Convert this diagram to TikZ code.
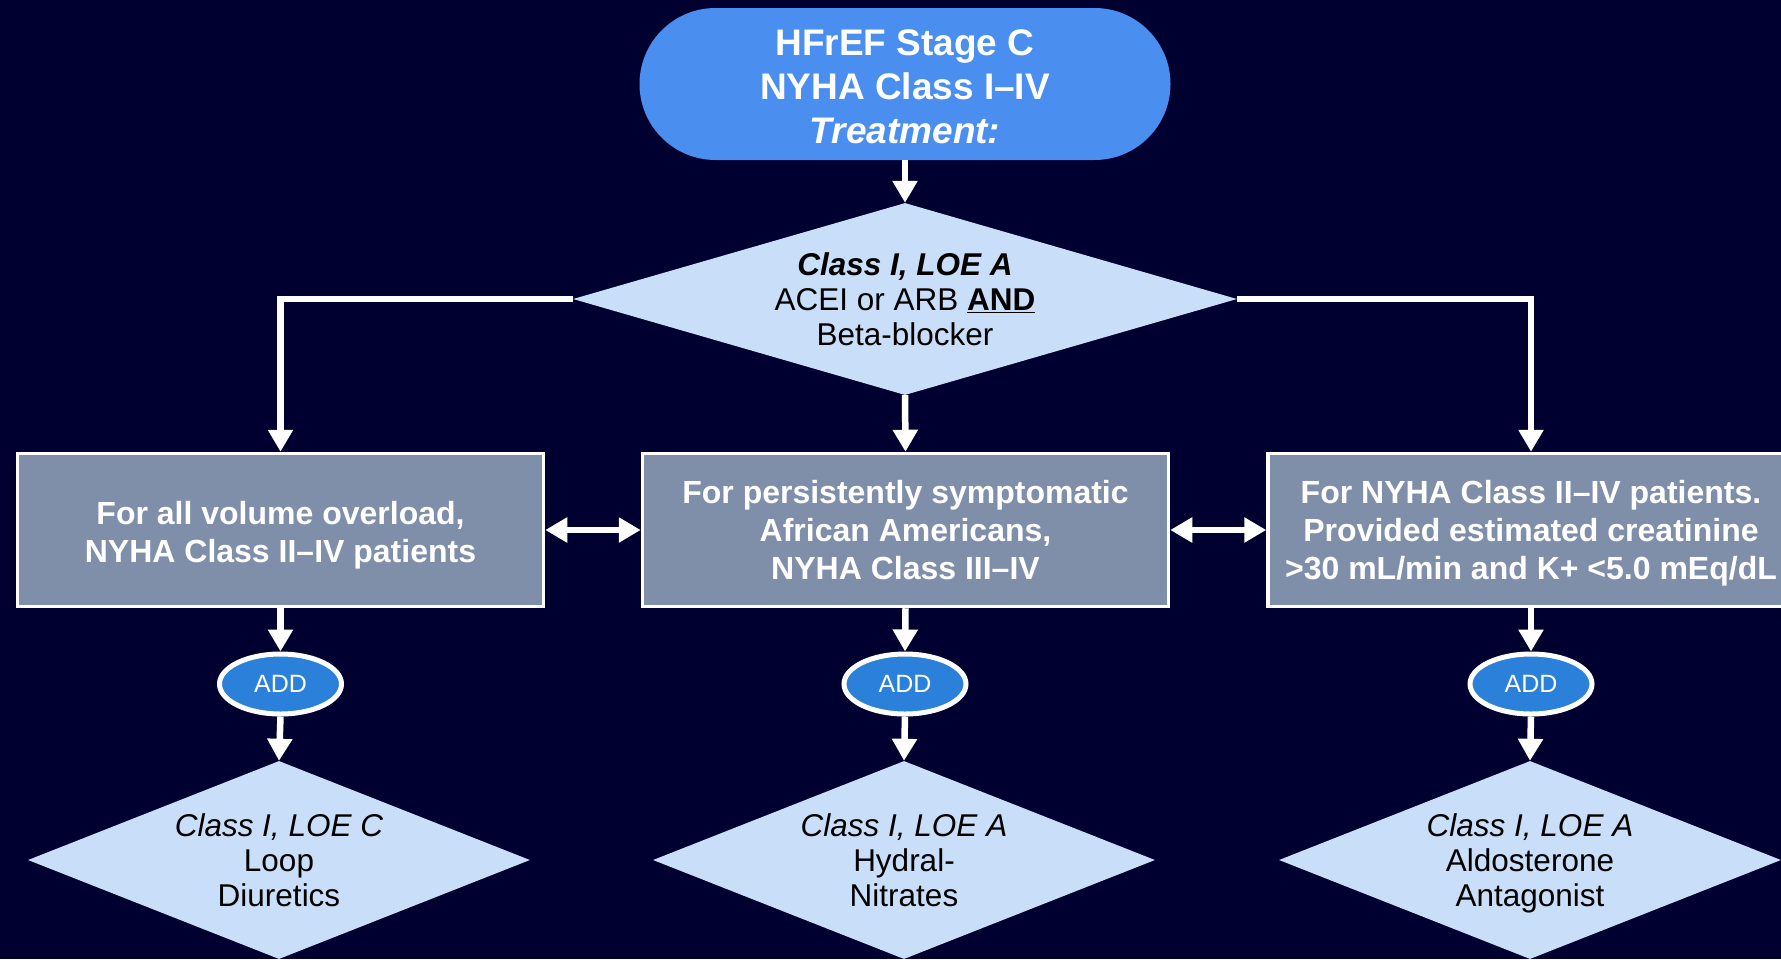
\documentclass[tikz,border=0pt]{standalone}
\usepackage{fontspec}
\setmainfont{Liberation Sans}
\usetikzlibrary{shapes.geometric,arrows.meta}
\definecolor{bg}{HTML}{000030}
\definecolor{pillblue}{HTML}{4A8EF0}
\definecolor{boxgray}{HTML}{7F8FAA}
\definecolor{ellblue}{HTML}{2B80D9}
\definecolor{diablue}{HTML}{C9DEF8}
\newcommand\lastline[1]{\smash{#1}}
\begin{document}
\begin{tikzpicture}[x=1pt,y=-1pt,
  pill/.style={rectangle, rounded corners=76pt, fill=pillblue, minimum width=531pt, minimum height=152pt,
    text=white, align=center, font=\fontsize{37}{44}\selectfont\bfseries, inner sep=0pt},
  bigdia/.style={diamond, fill=diablue, aspect=3.458, inner sep=0pt, minimum width=664pt, minimum height=192pt,
    align=center, text=black, font=\fontsize{31.5}{35}\selectfont},
  smalldia/.style={diamond, fill=diablue, aspect=2.535, inner sep=0pt, minimum width=502pt, minimum height=198pt,
    align=center, text=black, font=\fontsize{31.5}{35}\selectfont},
  graybox/.style={rectangle, fill=boxgray, draw=white, line width=3.5pt, minimum width=526pt, minimum height=153pt,
    align=center, text=white, font=\fontsize{32}{38}\selectfont\bfseries, inner sep=0pt},
  addell/.style={ellipse, fill=ellblue, draw=white, line width=5pt, minimum width=122pt, minimum height=60pt,
    text=white, font=\fontsize{25}{28}\selectfont, inner sep=0pt},
  conn/.style={draw=white, line width=6.5pt, -{Triangle[length=22pt,width=24pt]}},
  dconn/.style={draw=white, line width=6.5pt, {Triangle[length=22pt,width=24pt]}-{Triangle[length=22pt,width=24pt]}}
]
\fill[bg] (0,0) rectangle (1781,959);
\useasboundingbox (0,0) rectangle (1781,959);

\node[pill] (top) at (905,84) {\rule{0pt}{31pt}HFrEF Stage C\\NYHA Class I–IV\\\lastline{\textit{Treatment:}}};

\node[bigdia] (d0) at (905,299) {\textbf{\textit{Class I, LOE A}}\\ACEI or ARB \textbf{\underline{AND}}\\\lastline{Beta-blocker}};

\node[graybox] (bl) at (280.5,530) {\rule{0pt}{27pt}For all volume overload,\\\lastline{NYHA Class II–IV patients}};
\node[graybox] (bm) at (905.5,530) {For persistently symptomatic\\African Americans,\\\lastline{NYHA Class III–IV}};
\node[graybox] (br) at (1531,530) {For NYHA Class II–IV patients.\\Provided estimated creatinine\\\lastline{>30 mL/min and K+ <5.0 mEq/dL}};

\node[addell] (al) at (280.5,684) {ADD};
\node[addell] (am) at (905,684) {ADD};
\node[addell] (ar) at (1531,684) {ADD};

\node[smalldia] (dl) at (279,860) {\textit{Class I, LOE C}\\Loop\\\lastline{Diuretics}};
\node[smalldia] (dm) at (904,860) {\textit{Class I, LOE A}\\Hydral-\\\lastline{Nitrates}};
\node[smalldia] (dr) at (1530,860) {\textit{Class I, LOE A}\\Aldosterone\\\lastline{Antagonist}};

\draw[conn] (top.south) -- (d0.north);
\draw[conn] (d0.south) -- (bm.north);
\draw[conn] (d0.west) -| (bl.north);
\draw[conn] (d0.east) -| (br.north);
\draw[dconn] (bl.east) -- (bm.west);
\draw[dconn] (bm.east) -- (br.west);
\draw[conn] (bl.south) -- (al.north);
\draw[conn] (bm.south) -- (am.north);
\draw[conn] (br.south) -- (ar.north);
\draw[conn] (al.south) -- (dl.north);
\draw[conn] (am.south) -- (dm.north);
\draw[conn] (ar.south) -- (dr.north);
\end{tikzpicture}
\end{document}
